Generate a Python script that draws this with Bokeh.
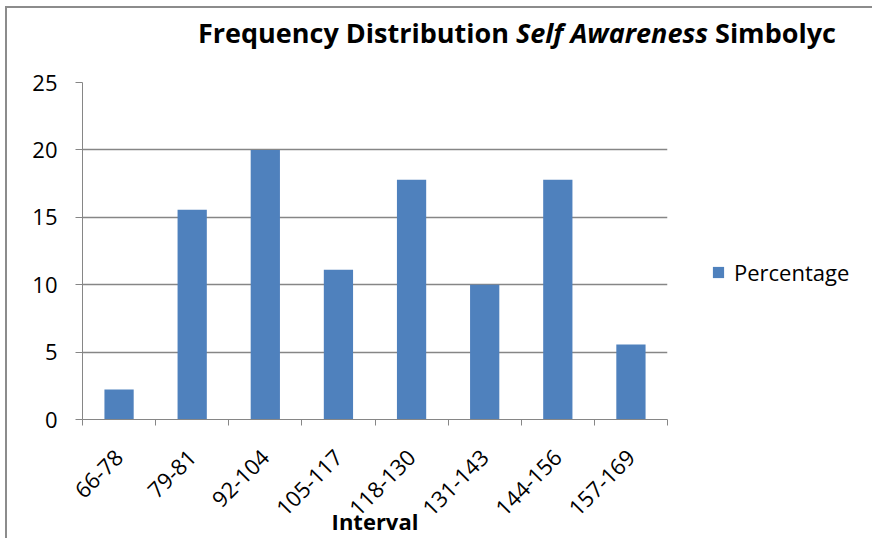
import numpy as np
from math import pi
from bokeh.plotting import figure
from bokeh.layouts import column
from bokeh.models import FixedTicker, Legend, LegendItem, Range1d, Div
from bokeh.embed import file_html
from bokeh.resources import INLINE

categories = ["66-78", "79-81", "92-104", "105-117", "118-130", "131-143", "144-156", "157-169"]
percentage = [2.22, 15.56, 20.0, 11.11, 17.78, 10.0, 17.78, 5.56]
y_ticks = [0, 5, 10, 15, 20, 25]
title_parts = ["Frequency Distribution", "Self Awareness", "Simbolyc"]

FONT = "Open Sans"
GRAY = "#868686"
BLUE = "#4F81BD"

n = len(categories)
centers = list(np.arange(n) + 0.5)
bounds = list(np.arange(n + 1).astype(float))

TITLE_H = 40

p = figure(frame_width=585, frame_height=337,
           min_border_left=75, min_border_right=200, min_border_top=24,
           min_border_bottom=112,
           x_range=Range1d(0, n), y_range=Range1d(0, 25),
           output_backend="svg", toolbar_location=None)
p.outline_line_color = None
p.background_fill_color = "white"
p.border_fill_color = "white"

r = p.vbar(x=centers, top=percentage, width=0.4, fill_color=BLUE, line_color=None)

# x axis
xa = p.xaxis[0]
xa.ticker = FixedTicker(ticks=centers, minor_ticks=bounds)
xa.major_label_overrides = {c: lab for c, lab in zip(centers, categories)}
xa.major_tick_out = 0
xa.major_tick_in = 0
xa.minor_tick_out = 6
xa.minor_tick_in = 0
xa.minor_tick_line_color = GRAY
xa.axis_line_color = GRAY
xa.major_label_orientation = pi / 4
xa.major_label_text_font = FONT
xa.major_label_text_font_size = "22px"
xa.major_label_text_color = "black"
xa.major_label_standoff = 28
xa.axis_label = "Interval"
xa.axis_label_text_font = FONT
xa.axis_label_text_font_style = "bold"
xa.axis_label_text_font_size = "22px"
xa.axis_label_text_color = "black"
xa.axis_label_standoff = -20

# y axis
ya = p.yaxis[0]
ya.ticker = FixedTicker(ticks=y_ticks)
ya.major_tick_out = 7
ya.major_tick_in = 0
ya.minor_tick_out = 0
ya.minor_tick_in = 0
ya.major_tick_line_color = GRAY
ya.axis_line_color = GRAY
ya.major_label_text_font = FONT
ya.major_label_text_font_size = "22px"
ya.major_label_text_color = "black"
ya.major_label_standoff = 18

p.xgrid.grid_line_color = None
p.ygrid.ticker = FixedTicker(ticks=y_ticks)
p.ygrid.grid_line_color = GRAY
p.ygrid.grid_line_width = 1.5

legend = Legend(items=[LegendItem(label="Percentage", renderers=[r])],
                location=(44, 132), border_line_color=None, background_fill_alpha=0,
                padding=0, margin=0, glyph_width=14, glyph_height=14, label_standoff=9,
                label_text_font=FONT, label_text_font_size="22px", label_text_color="black")
p.add_layout(legend, "right")

title = Div(text="%s <i>%s</i> %s" % tuple(title_parts), width=862, height=TITLE_H,
            styles={"font-family": FONT, "font-size": "27px", "font-weight": "bold",
                    "color": "black", "white-space": "nowrap", "padding-left": "186px",
                    "padding-top": "1px", "box-sizing": "border-box",
                    "background-color": "white"})

layout = column(title, p, spacing=0)
layout.styles = {"border-left": "2px solid #8c8c8c", "border-top": "2px solid #8c8c8c",
                 "margin-left": "5px", "margin-top": "6px", "background-color": "white"}

open("out.html", "w").write(file_html(layout, INLINE))
